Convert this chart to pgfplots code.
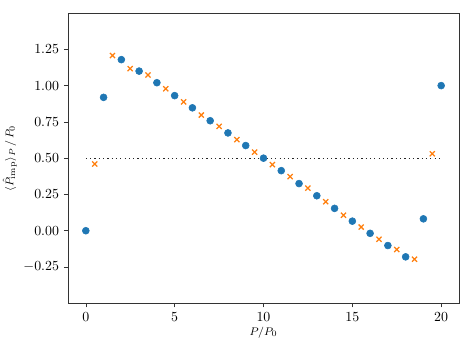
\documentclass[border=0pt]{standalone}
\usepackage{pgfplots}
\pgfplotsset{compat=1.18}
\usetikzlibrary{calc}
\definecolor{mplblue}{HTML}{1F77B4}
\definecolor{mplorange}{HTML}{FF7F0E}
\begin{document}
\begin{tikzpicture}
\begin{axis}[
    scale only axis,
    width=281.5pt, height=209pt,
    xmin=-1, xmax=21,
    ymin=-0.5, ymax=1.5,
    xtick={0,5,10,15,20},
    ytick={-0.25,0,0.25,0.5,0.75,1,1.25},
    yticklabel style={/pgf/number format/.cd,fixed,fixed zerofill,precision=2},
    tick align=outside,
    xtick pos=left, ytick pos=left,
    major tick length=3pt,
    axis line style={black!80},
    every tick/.style={black!80},
    xlabel={$P/P_0$},
    ylabel={$\langle \hat{P}_{\mathrm{imp}}\rangle_P\,/\,P_0$},
    label style={font=\footnotesize},
    xlabel style={yshift=3pt},
    ylabel style={yshift=-2pt},
]
\addplot[black!85, line width=0.9pt, dash pattern=on 0.9pt off 2.2pt] coordinates {(0,0.5) (20,0.5)};
\addplot[only marks, mark=*, mark size=2.5pt, mplblue, mark options={draw=mplblue, fill=mplblue}] coordinates {
(0,0.000) (1,0.919) (2,1.179) (3,1.100) (4,1.020) (5,0.931) (6,0.847)
(7,0.758) (8,0.674) (9,0.587) (10,0.500) (11,0.414) (12,0.325) (13,0.241)
(14,0.154) (15,0.066) (16,-0.018) (17,-0.102) (18,-0.180) (19,0.082) (20,1.000)
};
\addplot[only marks, mark=x, mark size=2.6pt, mplorange, mark options={line width=0.9pt}] coordinates {
(0.5,0.460) (1.5,1.207) (2.5,1.117) (3.5,1.073) (4.5,0.978) (5.5,0.888)
(6.5,0.797) (7.5,0.719) (8.5,0.628) (9.5,0.542) (10.5,0.455) (11.5,0.373)
(12.5,0.294) (13.5,0.200) (14.5,0.107) (15.5,0.025) (16.5,-0.059)
(17.5,-0.130) (18.5,-0.196) (19.5,0.530)
};
\end{axis}
\pgfresetboundingbox
\path[use as bounding box] ($(current axis.south west)+(-49pt,-36.7pt)$) rectangle ($(current axis.north east)+(9.4pt,9.4pt)$);
\end{tikzpicture}
\end{document}
